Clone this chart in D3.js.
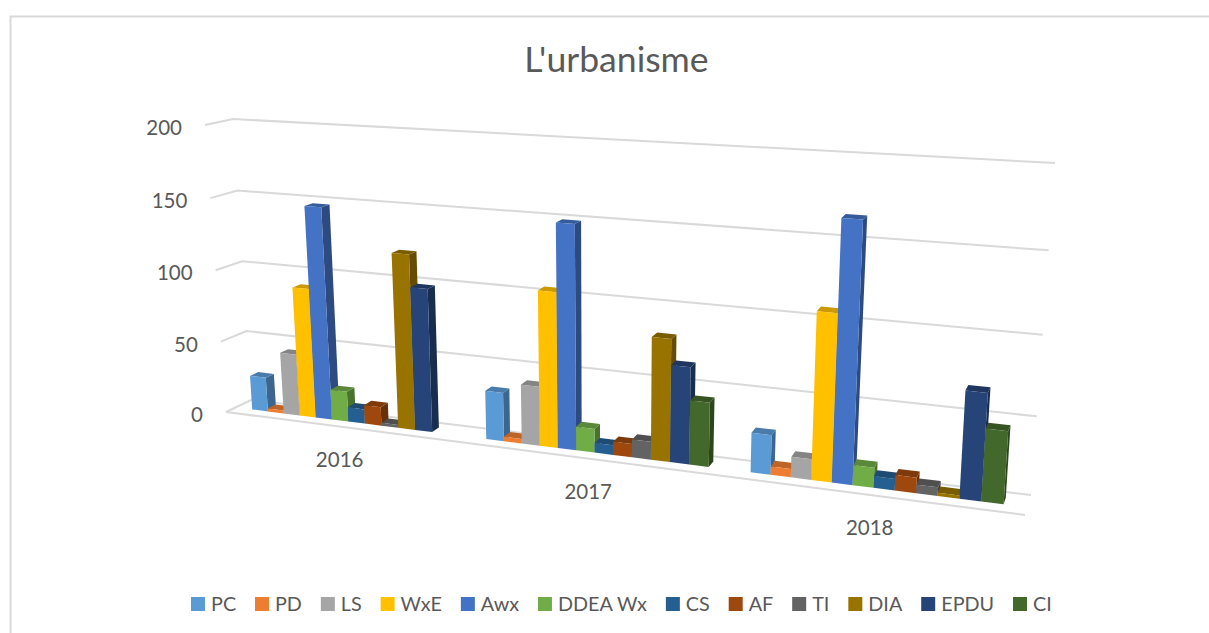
<!DOCTYPE html>
<html><head><meta charset="utf-8">
<script src="https://cdn.jsdelivr.net/npm/d3@7"></script>
<style>html,body{margin:0;padding:0;background:#fff;overflow:hidden}svg{display:block}text{font-family:Lato,"Open Sans",sans-serif;fill:#595959}</style>
</head><body><svg id="c" width="1209" height="633"></svg>
<script>
const title = "L'urbanisme";
const years = ["2016","2017","2018"];
const seriesNames = ["PC","PD","LS","WxE","Awx","DDEA Wx","CS","AF","TI","DIA","EPDU","CI"];
const PC   = [24,33,26];
const PD   = [2,3,5.5];
const LS   = [43,40,13.5];
const WxE  = [90,104,107.5];
const Awx  = [147,149,165];
const DDEA = [21,16,13];
const CS   = [10,6.5,7.5];
const AF   = [13,9,10];
const TI   = [2,12,5.5];
const DIA  = [120,81,2];
const EPDU = [98,64,68];
const CI   = [0,42.5,46];
const seriesValues = [PC,PD,LS,WxE,Awx,DDEA,CS,AF,TI,DIA,EPDU,CI];
const colors = ["#5B9BD5","#ED7D31","#A5A5A5","#FFC000","#4472C4","#70AD47","#255E91","#9E480E","#636363","#997300","#264478","#43682B"];
const ticks = [0,50,100,150,200];

const svg = d3.select("#c");
// frame
svg.append("path").attr("d","M10.5,634V16.5H1209").attr("fill","none").attr("stroke","#d9d9d9").attr("stroke-width",2);

// 3D frame corners [front/back][bottom/top][left/right]
const C = {
  f0l:[226,412], f0r:[1025,515], f1l:[205,125], f1r:[1046,175],
  b0l:[251,400], b0r:[1031,495], b1l:[233,119], b1r:[1055,163]
};
const lerp=(a,b,t)=>a+(b-a)*t, lerp2=(p,q,t)=>[lerp(p[0],q[0],t),lerp(p[1],q[1],t)];
const y3 = d3.scaleLinear().domain([0,200]).range([0,1]);
const xBand = d3.scaleBand().domain(years).range([0,1]).paddingInner(.15).paddingOuter(.075);
const sBand = d3.scaleBand().domain(seriesNames).range([0,xBand.bandwidth()]);
const K = 1.206;
const warpX = t => t/(t+K*(1-t));
function project(t,z,v){
  const u = warpX(t);
  const h0 = y3(v);
  const h = h0 - lerp(.025,.07,u)*h0*(1-h0);
  const front = lerp2(lerp2(C.f0l,C.f0r,u),lerp2(C.f1l,C.f1r,u),h);
  const back  = lerp2(lerp2(C.b0l,C.b0r,u),lerp2(C.b1l,C.b1r,u),h);
  return lerp2(front,back,z);
}
const poly = pts => "M"+pts.map(p=>p[0].toFixed(2)+","+p[1].toFixed(2)).join("L")+"Z";
const line = pts => "M"+pts.map(p=>p[0].toFixed(2)+","+p[1].toFixed(2)).join("L");

// gridlines
const grid = svg.append("g").attr("fill","none").attr("stroke","#d9d9d9").attr("stroke-width",2);
ticks.forEach(v=>{
  grid.append("path").attr("d",line([project(0,0,v),project(0,1,v),project(1,1,v)]));
});
grid.append("path").attr("d",line([project(0,0,0),project(1,0,0)]));

// axis labels
const yLab = svg.append("g").attr("font-size",20.5).attr("text-anchor","end");
ticks.forEach(v=>{
  const p = project(0,0,v);
  yLab.append("text").attr("x",p[0]-23).attr("y",p[1]+10).text(v);
});

// bars
const Z0=.39, Z1=.72;
const shade=(c,k)=>{const r=d3.rgb(c);return d3.rgb(r.r*k,r.g*k,r.b*k).formatHex();};
const bars = svg.append("g");
years.forEach((yr,i)=>{
  seriesNames.forEach((nm,j)=>{
    const v = seriesValues[j][i];
    if(!v) return;
    const a = xBand(yr)+sBand(nm), b = a+sBand.bandwidth();
    const g = bars.append("g");
    g.append("path").attr("fill",shade(colors[j],.66)).attr("d",poly([project(b,Z0,0),project(b,Z1,0),project(b,Z1,v),project(b,Z0,v)]));
    g.append("path").attr("fill",shade(colors[j],.8)).attr("d",poly([project(a,Z0,v),project(b,Z0,v),project(b,Z1,v),project(a,Z1,v)]));
    g.append("path").attr("fill",colors[j]).attr("d",poly([project(a,Z0,0),project(b,Z0,0),project(b,Z0,v),project(a,Z0,v)]));
  });
});

// category labels
years.forEach(yr=>{
  const p = project(xBand(yr)+xBand.bandwidth()/2,0,0);
  svg.append("text").attr("x",p[0]).attr("y",p[1]+40).attr("text-anchor","middle").attr("font-size",20.5).text(yr);
});

// title
svg.append("text").attr("x",616.5).attr("y",72).attr("text-anchor","middle").attr("font-size",35.6).text(title);

// legend
const leg = svg.append("g");
let lx = 191; const legendGap = 18.9;
seriesNames.forEach((nm,j)=>{
  leg.append("rect").attr("x",lx).attr("y",597).attr("width",14).attr("height",14).attr("fill",colors[j]);
  const t = leg.append("text").attr("x",lx+20).attr("y",611).attr("font-size",19.8).text(nm);
  lx += 20 + t.node().getComputedTextLength() + legendGap;
});
</script></body></html>
